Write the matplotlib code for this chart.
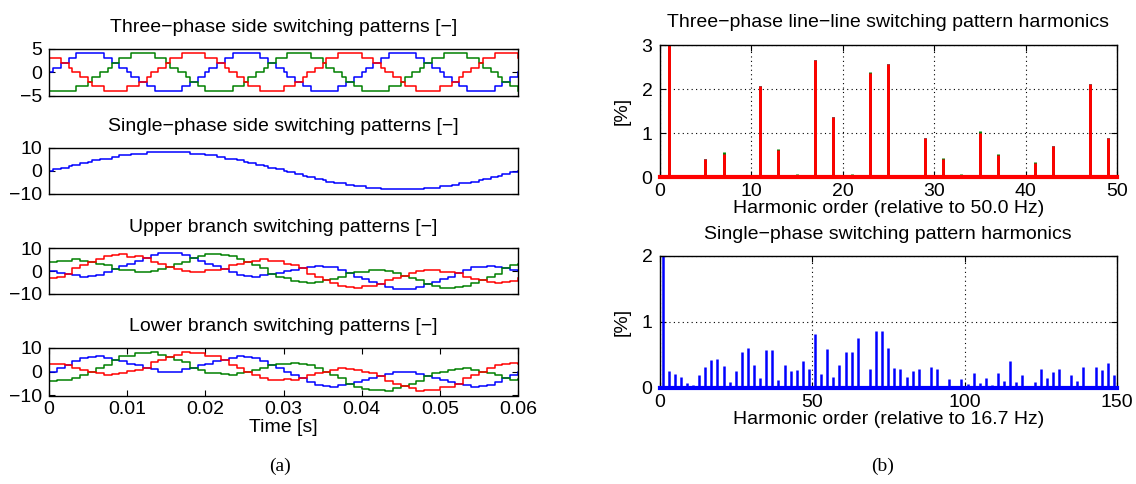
import matplotlib

matplotlib.use("Agg")
import matplotlib.pyplot as plt
import numpy as np

plt.rcParams["font.family"] = ["Liberation Sans", "DejaVu Sans"]
plt.rcParams["axes.linewidth"] = 1.0

W, H = 1136, 484
BLUE, GREEN, RED = "#0000ff", "#008000", "#ff0000"

# ---- left column: switching patterns (sample step 0.5 ms for the first two, 1 ms for branches)
dt_fast = 0.5e-3
dt_branch = 1e-3

three_blue = [0, 1, 1, 2, 2, 3, 3, 4, 4, 4, 4, 4, 4, 4, 3, 3, 2, 2, 1, 1, 0, -1, -1, -2, -2, -3, -3, -4, -4, -4, -4, -4, -4, -4, -3, -3, -2, -2, -1, -1,
              0, 1, 1, 2, 2, 3, 3, 4, 4, 4, 4, 4, 4, 4, 3, 3, 2, 2, 1, 1, 0, -1, -1, -2, -2, -3, -3, -4, -4, -4, -4, -4, -4, -4, -3, -3, -2, -2, -1, -1,
              0, 1, 1, 2, 2, 3, 3, 4, 4, 4, 4, 4, 4, 4, 3, 3, 2, 2, 1, 1, 0, -1, -1, -2, -2, -3, -3, -4, -4, -4, -4, -4, -4, -4, -3, -3, -2, -2, -1, -1,
              0]
three_red = [3, 3, 3, 2, 2, 1, 0, 0, -1, -1, -2, -3, -3, -3, -4, -4, -4, -4, -4, -4, -3, -3, -3, -2, -2, -1, 0, 0, 1, 1, 2, 3, 3, 3, 4, 4, 4, 4, 4, 4,
             3, 3, 3, 2, 2, 1, 0, 0, -1, -1, -2, -3, -3, -3, -4, -4, -4, -4, -4, -4, -3, -3, -3, -2, -2, -1, 0, 0, 1, 1, 2, 3, 3, 3, 4, 4, 4, 4, 4, 4,
             3, 3, 3, 2, 2, 1, 0, 0, -1, -1, -2, -3, -3, -3, -4, -4, -4, -4, -4, -4, -3, -3, -3, -2, -2, -1, 0, 0, 1, 1, 2, 3, 3, 3, 4, 4, 4, 4, 4, 4,
             3]
three_green = [-4, -4, -4, -4, -4, -4, -4, -3, -3, -3, -2, -1, -1, 0, 0, 1, 2, 2, 3, 3, 3, 4, 4, 4, 4, 4, 4, 3, 3, 3, 2, 1, 1, 0, 0, -1, -2, -2, -3, -3,
               -4, -4, -4, -4, -4, -4, -4, -3, -3, -3, -2, -1, -1, 0, 0, 1, 2, 2, 3, 3, 3, 4, 4, 4, 4, 4, 4, 3, 3, 3, 2, 1, 1, 0, 0, -1, -2, -2, -3, -3,
               -4, -4, -4, -4, -4, -4, -4, -3, -3, -3, -2, -1, -1, 0, 0, 1, 2, 2, 3, 3, 3, 4, 4, 4, 4, 4, 4, 3, 3, 3, 2, 1, 1, 0, 0, -1, -2, -2, -3, -3,
               -4]

single_phase = [0, 0.67, 0.67, 1.33, 1.33, 2, 2.67, 2.67, 3.33, 3.33, 4, 4.67, 4.67, 5.33, 5.33, 5.33, 6, 6, 6.67, 6.67,
                6.67, 7.33, 7.33, 7.33, 7.33, 8, 8, 8, 8, 8, 8, 8, 8, 8, 8, 8, 7.33, 7.33, 7.33, 7.33,
                6.67, 6.67, 6.67, 6, 6, 5.33, 5.33, 5.33, 4.67, 4.67, 4, 3.33, 3.33, 2.67, 2.67, 2, 1.33, 1.33, 0.67, 0.67,
                0, -0.67, -0.67, -1.33, -1.33, -2, -2.67, -2.67, -3.33, -3.33, -4, -4.67, -4.67, -5.33, -5.33, -5.33, -6, -6, -6.67, -6.67,
                -6.67, -7.33, -7.33, -7.33, -7.33, -8, -8, -8, -8, -8, -8, -8, -8, -8, -8, -8, -7.33, -7.33, -7.33, -7.33,
                -6.67, -6.67, -6.67, -6, -6, -5.33, -5.33, -5.33, -4.67, -4.67, -4, -3.33, -3.33, -2.67, -2.67, -2, -1.33, -1.33, -0.67, -0.67,
                0]

upper_blue = [0, -0.67, -1.33, -1.67, -2.33, -2, -1.67, -0.33, 1, 2.33, 3.33, 4.67, 5.67, 7, 8, 8, 8, 7, 5.67, 4.67,
              3.33, 2.33, 1, -0.33, -1.67, -2, -2.33, -1.67, -1.33, -0.67, 0, 0.67, 1.33, 1.67, 2.33, 2, 1.67, 0.33, -1, -2.33,
              -3.33, -4.67, -5.67, -7, -8, -8, -8, -7, -5.67, -4.67, -3.33, -2.33, -1, 0.33, 1.67, 2, 2.33, 1.67, 1.33, 0.67, 0]
upper_green = [4, 4.33, 4.67, 5.33, 4.67, 4, 3.33, 2.67, 1, 0.33, 0.33, -0.33, -0.33, 0, 1, 2, 3, 4, 5.67, 6.67,
               7.33, 7.33, 7, 6.67, 5.33, 4, 2.67, 1.33, -1.33, -2.67, -3, -4.33, -4.67, -5.33, -4.67, -4, -3.33, -2.67, -1, -0.33,
               -0.33, 0.33, 0.33, 0, -1, -2, -3, -4, -5.67, -6.67, -7.33, -7.33, -7, -6.67, -5.33, -4, -2.67, -1.33, 1.33, 2.67, 3]
upper_red = [-3, -2.67, -1.33, 1.33, 2.67, 4, 5.33, 6.67, 7, 7.33, 6.33, 6.67, 5.67, 4, 3, 2, 1, 0, -0.33, -0.33,
             0.33, 0.33, 1, 2.67, 3.33, 4, 4.67, 5.33, 4.67, 4.33, 3, 2.67, 1.33, -1.33, -2.67, -4, -5.33, -6.67, -7, -7.33,
             -6.33, -6.67, -5.67, -4, -3, -2, -1, 0, 0.33, 0.33, -0.33, -0.33, -1, -2.67, -3.33, -4, -4.67, -5.33, -4.67, -4.33, -3]

lower_blue = [0, 1.33, 2.67, 4.33, 5.67, 6, 6.33, 5.67, 5, 4.33, 3.33, 2.67, 1.67, 1, 0, 0, 0, 1, 1.67, 2.67,
              3.33, 4.33, 5, 5.67, 6.33, 6, 5.67, 4.33, 2.67, 1.33, 0, -1.33, -2.67, -4.33, -5.67, -6, -6.33, -5.67, -5, -4.33,
              -3.33, -2.67, -1.67, -1, 0, 0, 0, -1, -1.67, -2.67, -3.33, -4.33, -5, -5.67, -6.33, -6, -5.67, -4.33, -2.67, -1.33, 0]
lower_green = [-4, -3.67, -3.33, -2.67, -1.33, 0, 1.33, 2.67, 5, 6.33, 6.33, 7.67, 7.67, 8, 7, 6, 5, 4, 1.67, 0.67,
               -0.67, -0.67, -1, -1.33, -0.67, 0, 0.67, 1.33, 2.67, 3.33, 3, 3.67, 3.33, 2.67, 1.33, 0, -1.33, -2.67, -5, -6.33,
               -7.33, -7.67, -7.67, -8, -7, -6, -5, -4, -1.67, -0.67, -0.33, 0.67, 1, 1.33, 0.67, 0, -0.67, -1.33, -2.67, -3.33, -3]
lower_red = [3, 3.33, 2.67, 1.33, 0.67, 0, -0.67, -1.33, -1, -0.67, 0.33, 0.67, 1.67, 4, 5, 6, 7, 8, 7.67, 7.67,
             6.33, 6.33, 5, 2.67, 1.33, 0, -1.33, -2.67, -3.33, -3.67, -3, -3.33, -2.67, -1.33, -0.67, 0, 0.67, 1.33, 1, 0.67,
             -0.33, -0.67, -1.67, -4, -5, -6, -7, -8, -7.67, -7.67, -6.33, -6.33, -5, -2.67, -1.33, 0, 1.33, 2.67, 3.33, 3.67, 3]

time_ticks = [0, 0.01, 0.02, 0.03, 0.04, 0.05, 0.06]
time_labels = ["0", "0.01", "0.02", "0.03", "0.04", "0.05", "0.06"]

# ---- right column: harmonic spectra [%]
harm_3ph = [1, 3, 5, 7, 9, 11, 13, 15, 17, 19, 21, 23, 25, 27, 29, 31, 33, 35, 37, 39, 41, 43, 45, 47, 49]
harm_3ph_blue = [100, 0.03, 0.40, 0.52, 0.03, 2.07, 0.62, 0.04, 2.67, 1.36, 0.04, 2.38, 2.57, 0.0, 0.88,
                 0.42, 0.04, 1.00, 0.50, 0.01, 0.31, 0.70, 0.02, 2.12, 0.88]
harm_3ph_green = [100, 0.04, 0.41, 0.58, 0.04, 2.07, 0.63, 0.06, 2.67, 1.36, 0.06, 2.40, 2.57, 0.0, 0.88,
                  0.44, 0.06, 1.04, 0.53, 0.01, 0.34, 0.70, 0.02, 2.12, 0.88]
harm_3ph_red = [100, 0.03, 0.40, 0.52, 0.03, 2.07, 0.62, 0.04, 2.67, 1.36, 0.04, 2.38, 2.57, 0.0, 0.88,
                0.42, 0.04, 1.00, 0.50, 0.01, 0.31, 0.70, 0.02, 2.12, 0.88]

harm_1ph = [1, 3, 5, 7, 9, 11, 13, 15, 17, 19, 21, 23, 25, 27, 29, 31, 33, 35, 37, 39, 41, 43, 45, 47, 49,
            51, 53, 55, 57, 59, 61, 63, 65, 67, 69, 71, 73, 75, 77, 79, 81, 83, 85, 87, 89, 91, 93, 95, 97, 99,
            101, 103, 105, 107, 109, 111, 113, 115, 117, 119, 121, 123, 125, 127, 129, 131, 133, 135, 137, 139,
            141, 143, 145, 147, 149]
harm_1ph_val = [100, 0.25, 0.215, 0.16, 0.08, 0.05, 0.19, 0.32, 0.42, 0.44, 0.33, 0.09, 0.26, 0.54, 0.60,
                0.35, 0.15, 0.57, 0.57, 0.12, 0.34, 0.26, 0.27, 0.41, 0.28,
                0.81, 0.215, 0.59, 0.16, 0.34, 0.55, 0.54, 0.76, 0.0, 0.29, 0.86, 0.86, 0.60, 0.30, 0.29,
                0.17, 0.26, 0.29, 0.01, 0.31, 0.28, 0.0, 0.14, 0.0, 0.13,
                0.06, 0.23, 0.07, 0.15, 0.05, 0.23, 0.11, 0.41, 0.09, 0.20, 0.0, 0.09, 0.29, 0.15, 0.24,
                0.29, 0.0, 0.20, 0.11, 0.32, 0.01, 0.31, 0.27, 0.38, 0.19]

fig = plt.figure(figsize=(W / 100, H / 100), dpi=100)


def px_axes(x0, y0, x1, y1):
    return fig.add_axes([x0 / W, 1 - y1 / H, (x1 - x0) / W, (y1 - y0) / H])


def style(ax):
    ax.tick_params(direction="in", top=True, right=True, length=4, width=0.8,
                   labelsize=14, pad=5, colors="black")
    ax.tick_params(axis="x", pad=4)
    for s in ax.spines.values():
        s.set_color("black")


FS = 14
LX0, LX1 = 49, 518

panels = [
    ("Three\u2212phase side switching patterns [\u2212]", (48.6, 95.9), dt_fast,
     [three_blue, three_green, three_red], 5),
    ("Single\u2212phase side switching patterns [\u2212]", (147.8, 194.0), dt_fast,
     [single_phase], 10),
    ("Upper branch switching patterns [\u2212]", (248.4, 294.0), dt_branch,
     [upper_blue, upper_green, upper_red], 10),
    ("Lower branch switching patterns [\u2212]", (347.6, 395.5), dt_branch,
     [lower_blue, lower_green, lower_red], 10),
]

for i, (title, (y0, y1), dt, series, lim) in enumerate(panels):
    ax = px_axes(LX0, y0, LX1, y1)
    colors = [BLUE] if len(series) == 1 else [BLUE, GREEN, RED]
    for vals, c in zip(series, colors):
        t = np.arange(len(vals)) * dt
        ax.step(t, vals, where="post", color=c, lw=1.1)
    ax.set_xlim(0, 0.06)
    ax.set_ylim(-lim, lim)
    ax.set_yticks([-lim, 0, lim])
    ax.set_title(title, fontsize=FS, pad=12)
    style(ax)
    if i < 3:
        ax.set_xticks([])
    else:
        ax.set_xticks(time_ticks)
        ax.set_xticklabels(time_labels)
        ax.set_xlabel("Time [s]", fontsize=FS, labelpad=1)

RX0, RX1 = 659.5, 1117

ax = px_axes(RX0, 45.3, RX1, 177)
ax.set_axisbelow(True)
ax.grid(True, linestyle=(0, (1, 3)), color="black", lw=0.8)
ax.vlines(harm_3ph, 0, harm_3ph_blue, colors=BLUE, lw=2.1)
ax.vlines(harm_3ph, 0, harm_3ph_green, colors=GREEN, lw=2.1)
ax.vlines(harm_3ph, 0, harm_3ph_red, colors=RED, lw=2.1)
ax.axhline(0, color=RED, lw=3, clip_on=False, zorder=3)
ax.set_xlim(0, 50)
ax.set_ylim(0, 3)
ax.set_xticks([0, 10, 20, 30, 40, 50])
ax.set_yticks([0, 1, 2, 3])
ax.set_title("Three\u2212phase line\u2212line switching pattern harmonics", fontsize=FS, pad=13)
ax.set_xlabel("Harmonic order (relative to 50.0 Hz)", fontsize=FS, labelpad=0)
ax.set_ylabel("[%]", fontsize=FS, labelpad=8)
style(ax)

ax = px_axes(RX0, 255.5, RX1, 388)
ax.set_axisbelow(True)
ax.grid(True, linestyle=(0, (1, 3)), color="black", lw=0.8)
ax.vlines(harm_1ph, 0, harm_1ph_val, colors=BLUE, lw=1.8)
ax.axhline(0, color=BLUE, lw=3, clip_on=False, zorder=3)
ax.set_xlim(0, 150)
ax.set_ylim(0, 2)
ax.set_xticks([0, 50, 100, 150])
ax.set_yticks([0, 1, 2])
ax.set_title("Single\u2212phase switching pattern harmonics", fontsize=FS, pad=12)
ax.set_xlabel("Harmonic order (relative to 16.7 Hz)", fontsize=FS, labelpad=0)
ax.set_ylabel("[%]", fontsize=FS, labelpad=8)
style(ax)

fig.text(280 / W, 1 - 466 / H, "(a)", ha="center", va="center",
         family=["Liberation Serif", "DejaVu Serif"], fontsize=14)
fig.text(883 / W, 1 - 466 / H, "(b)", ha="center", va="center",
         family=["Liberation Serif", "DejaVu Serif"], fontsize=14)

fig.savefig("out.png", dpi=100)
